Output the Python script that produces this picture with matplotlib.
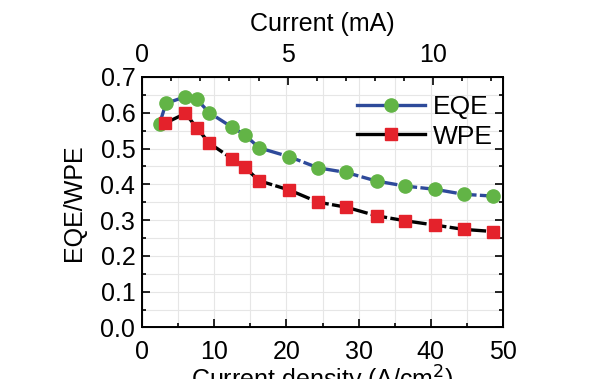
import matplotlib
matplotlib.use("Agg")
import matplotlib.pyplot as plt
from matplotlib.lines import Line2D
from matplotlib.ticker import MultipleLocator

plt.rcParams['font.family'] = ['Liberation Sans', 'DejaVu Sans']

# data
eqe_x = [2.4, 3.3, 6.0, 7.55, 9.3, 12.5, 14.2, 16.2, 20.4, 24.4, 28.3, 32.5, 36.5, 40.6, 44.6, 48.7]
eqe_y = [0.569, 0.626, 0.645, 0.638, 0.600, 0.559, 0.539, 0.502, 0.477, 0.446, 0.433, 0.409, 0.395, 0.386, 0.372, 0.367]
wpe_x = [3.2, 6.0, 7.6, 9.3, 12.5, 14.2, 16.2, 20.4, 24.4, 28.3, 32.5, 36.5, 40.6, 44.6, 48.7]
wpe_y = [0.571, 0.598, 0.557, 0.515, 0.471, 0.448, 0.410, 0.384, 0.350, 0.336, 0.312, 0.298, 0.286, 0.274, 0.268]

blue = '#2e4a9a'
green = '#62b446'
red = '#e4222b'
fs = 18

fig = plt.figure(figsize=(6, 3.79), dpi=100)
ax = fig.add_axes([0.237, 0.136, 0.601, 0.661])

ax.plot(eqe_x, eqe_y, color=blue, lw=2.4, ls=(0, (5, 1)), marker='o', ms=9.5,
        mfc=green, mec=green, zorder=3)
ax.plot(wpe_x, wpe_y, color='black', lw=2.4, ls=(0, (5, 1)), marker='s', ms=8,
        mfc=red, mec=red, zorder=3)

ax.set_xlim(0, 50)
ax.set_ylim(0, 0.7)
ax.xaxis.set_major_locator(MultipleLocator(10))
ax.xaxis.set_minor_locator(MultipleLocator(5))
ax.yaxis.set_major_locator(MultipleLocator(0.1))
ax.yaxis.set_minor_locator(MultipleLocator(0.05))
ax.set_yticklabels(['%.1f' % v for v in ax.get_yticks()])
ax.grid(True, which='both', color='#e6e6e6', lw=0.8)
ax.set_axisbelow(True)

ax.tick_params(which='both', direction='in', right=True, labelsize=fs, width=1.2)
ax.tick_params(which='major', length=6, pad=5)
ax.tick_params(axis='x', which='major', pad=9)
ax.tick_params(which='minor', length=3)
ax.tick_params(axis='x', top=False)
for s in ax.spines.values():
    s.set_linewidth(1.4)

ax.set_xlabel('Current density (A/cm$^2$)', fontsize=fs, labelpad=0)
ax.set_ylabel('EQE/WPE', fontsize=fs, labelpad=10)

ax2 = ax.twiny()
ax2.set_xlim(0, 12.4)
ax2.xaxis.set_major_locator(MultipleLocator(5))
ax2.xaxis.set_minor_locator(MultipleLocator(1))
ax2.tick_params(which='both', direction='in', labelsize=fs, width=1.2)
ax2.tick_params(which='major', length=6, pad=7)
ax2.tick_params(which='minor', length=3)
ax2.set_xlabel('Current (mA)', fontsize=fs, labelpad=9)

handles = [
    Line2D([], [], color=blue, lw=2.4, marker='o', ms=9.5, mfc=green, mec=green),
    Line2D([], [], color='black', lw=2.4, marker='s', ms=8, mfc=red, mec=red),
]
ax.legend(handles, ['EQE', 'WPE'], loc='upper right', bbox_to_anchor=(1.025, 1.0),
          fontsize=19, frameon=False, handlelength=2.6, handletextpad=0.3,
          borderaxespad=0.3, labelspacing=0.2)

fig.savefig('out.png', dpi=100)
